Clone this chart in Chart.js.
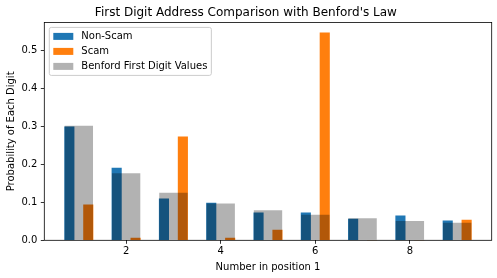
<!DOCTYPE html>
<html>
<head>
<meta charset="utf-8">
<script src="https://cdn.jsdelivr.net/npm/chart.js@4/dist/chart.umd.min.js"></script>
<style>
  html, body { margin: 0; padding: 0; background: #fff; }
  #wrap { width: 497px; height: 278px; }
</style>
</head>
<body>
<div id="wrap"><canvas id="benfordChart" width="497" height="278"></canvas></div>
<script>
// data
const digits = [1, 2, 3, 4, 5, 6, 7, 8, 9];
const nonScam = [0.298, 0.190, 0.109, 0.098, 0.072, 0.072, 0.056, 0.064, 0.051];
const scam = [0.093, 0.006, 0.272, 0.006, 0.027, 0.5455, 0, 0, 0.053];
const benford = [0.301, 0.176, 0.125, 0.097, 0.079, 0.067, 0.058, 0.051, 0.046];
const xTicks = [2, 4, 6, 8];
const yTicks = [0, 0.1, 0.2, 0.3, 0.4, 0.5];

const font = 'DejaVu Sans';

// fixed sizes so the plot box lands where the matplotlib one was
const yAxisWidth = 44.3;
const xAxisHeight = 37.7;

// frame round the plot area (all 4 spines)
const framePlugin = {
    id: 'frame',
    afterDatasetsDraw(chart) {
        const { ctx, chartArea: ca } = chart;
        ctx.save();
        ctx.strokeStyle = '#000';
        ctx.lineWidth = 0.8;
        ctx.strokeRect(ca.left, ca.top, ca.right - ca.left, ca.bottom - ca.top);
        ctx.restore();
    }
};

// matplotlib style legend inside the axes, upper left
const boxLegendPlugin = {
    id: 'boxLegend',
    afterDraw(chart) {
        const { ctx, chartArea: ca } = chart;
        const sets = chart.data.datasets;
        ctx.save();
        ctx.font = '10px ' + font;
        let maxW = 0;
        sets.forEach(ds => { maxW = Math.max(maxW, ctx.measureText(ds.label).width); });

        const left = ca.left + 5;
        const top = ca.top + 5;
        const rowH = 15;
        const w = 4 + 20 + 8 + maxW + 4;
        const h = 8 + rowH * sets.length - 5;

        ctx.beginPath();
        ctx.roundRect(left, top, w, h, 2);
        ctx.fillStyle = 'rgba(255,255,255,0.8)';
        ctx.fill();
        ctx.strokeStyle = '#cccccc';
        ctx.lineWidth = 1;
        ctx.stroke();

        sets.forEach((ds, i) => {
            const cy = top + 9 + i * rowH;
            ctx.fillStyle = ds.backgroundColor;
            ctx.fillRect(left + 4, cy - 3.5, 20, 7);
            ctx.fillStyle = '#000';
            ctx.textBaseline = 'middle';
            ctx.textAlign = 'left';
            ctx.fillText(ds.label, left + 32, cy + 0.5);
        });
        ctx.restore();
    }
};

const ctx = document.getElementById('benfordChart').getContext('2d');

let benfordChart = new Chart(ctx, {
    type: 'bar',
    data: {
        datasets: [{
            label: 'Non-Scam',
            data: digits.map((d, i) => ({ x: d - 0.2, y: nonScam[i] })),
            backgroundColor: '#1f77b4',
            barPercentage: 1,
            order: 2
        }, {
            label: 'Scam',
            data: digits.map((d, i) => ({ x: d + 0.2, y: scam[i] })),
            backgroundColor: '#ff7f0e',
            barPercentage: 1,
            order: 2
        }, {
            label: 'Benford First Digit Values',
            data: digits.map((d, i) => ({ x: d, y: benford[i] })),
            backgroundColor: 'rgba(0,0,0,0.3)',
            barPercentage: 3, // 3x the 0.2 spacing -> 0.6 wide
            order: 1 // drawn last, on top of the others
        }]
    },
    options: {
        responsive: false,
        animation: false,
        devicePixelRatio: 1,
        grouped: false,
        categoryPercentage: 1,
        borderWidth: 0,
        layout: {
            padding: { left: 0, right: 5.3, top: 0, bottom: 0 }
        },
        plugins: {
            legend: { display: false },
            tooltip: { enabled: false },
            title: {
                display: true,
                text: "First Digit Address Comparison with Benford's Law",
                color: '#000',
                font: { family: font, size: 12, weight: 'normal' },
                padding: { top: 6, bottom: 2 }
            }
        },
        scales: {
            x: {
                type: 'linear',
                min: 0.27,
                max: 9.73,
                offset: false,
                afterBuildTicks: (scale) => { scale.ticks = xTicks.map(v => ({ value: v })); },
                afterFit: (scale) => { scale.height = xAxisHeight; },
                grid: {
                    offset: false,
                    drawOnChartArea: false,
                    drawTicks: true,
                    tickLength: 3.5,
                    tickWidth: 0.8,
                    tickColor: '#000'
                },
                border: { display: false },
                ticks: {
                    color: '#000',
                    padding: 2,
                    font: { family: font, size: 10 },
                    maxRotation: 0,
                    callback: (v) => String(v)
                },
                title: {
                    display: true,
                    text: 'Number in position 1',
                    color: '#000',
                    font: { family: font, size: 10 },
                    padding: { top: 0, bottom: 5 }
                }
            },
            y: {
                min: 0,
                max: 0.5728,
                afterBuildTicks: (scale) => { scale.ticks = yTicks.map(v => ({ value: v })); },
                afterFit: (scale) => { scale.width = yAxisWidth; },
                grid: {
                    drawOnChartArea: false,
                    drawTicks: true,
                    tickLength: 3.5,
                    tickWidth: 0.8,
                    tickColor: '#000'
                },
                border: { display: false },
                ticks: {
                    color: '#000',
                    padding: 3.5,
                    font: { family: font, size: 10 },
                    callback: (v) => v.toFixed(1)
                },
                title: {
                    display: true,
                    text: 'Probability of Each Digit',
                    color: '#000',
                    font: { family: font, size: 10 },
                    padding: { top: 5, bottom: 0 }
                }
            }
        }
    },
    plugins: [framePlugin, boxLegendPlugin]
});
</script>
</body>
</html>
